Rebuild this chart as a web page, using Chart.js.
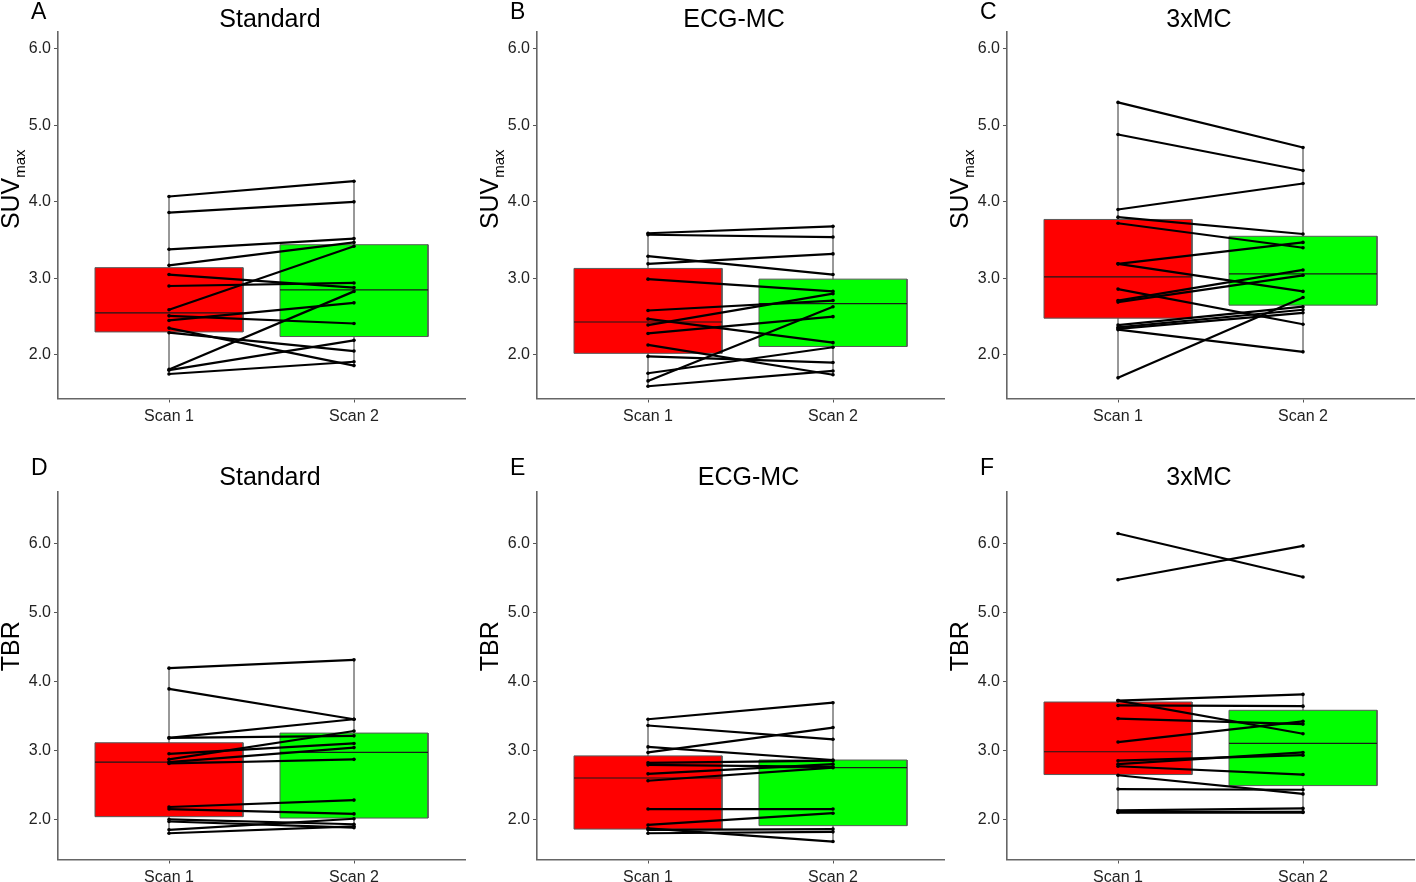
<!DOCTYPE html>
<html>
<head>
<meta charset="utf-8">
<script src="https://cdn.jsdelivr.net/npm/chart.js@4.4.1/dist/chart.umd.min.js"></script>
<style>
    body { margin: 0; background: #fff; }
    #wrap { position: relative; width: 1416px; height: 882px; overflow: hidden; background: #fff; }
    #wrap canvas { position: absolute; }
</style>
</head>
<body>
<div id="wrap"></div>
<script>
// ---- data ----
const scanLabels = ['Scan 1', 'Scan 2'];
const panelLetters = ['A', 'B', 'C', 'D', 'E', 'F'];
const panelTitles = ['Standard', 'ECG-MC', '3xMC', 'Standard', 'ECG-MC', '3xMC'];
const yTicks = [2.0, 3.0, 4.0, 5.0, 6.0];

// paired subject values (index k of scan 1 joins index k of scan 2)
const suvStdScan1 = [4.07, 3.86, 3.38, 3.17, 2.59, 3.05, 2.90, 2.51, 2.45, 1.81, 2.35, 2.29, 1.80, 1.75];
const suvStdScan2 = [4.27, 4.00, 3.52, 3.47, 3.42, 2.88, 2.94, 2.41, 2.68, 2.83, 1.86, 2.05, 2.19, 1.91];
const suvEcgScan1 = [3.59, 3.57, 3.29, 3.19, 2.99, 2.58, 2.47, 2.39, 2.28, 2.13, 1.98, 1.76, 1.66, 1.59];
const suvEcgScan2 = [3.68, 3.54, 3.05, 3.32, 2.83, 2.71, 2.16, 2.80, 2.50, 1.74, 1.90, 2.10, 2.63, 1.79];
const suv3xScan1 = [5.30, 4.88, 3.90, 3.80, 3.72, 3.19, 3.19, 2.86, 2.71, 2.69, 2.39, 2.36, 2.34, 2.33, 1.70];
const suv3xScan2 = [4.71, 4.41, 4.24, 3.58, 3.40, 3.47, 2.83, 2.40, 3.11, 3.04, 2.63, 2.59, 2.55, 2.04, 2.75];
const tbrStdScan1 = [4.19, 3.89, 3.18, 3.18, 2.95, 2.87, 2.83, 2.81, 2.18, 2.15, 2.00, 1.97, 1.85, 1.80];
const tbrStdScan2 = [4.31, 3.45, 3.45, 3.21, 3.10, 3.28, 3.04, 2.87, 2.28, 2.08, 1.93, 1.88, 2.01, 1.90];
const tbrEcgScan1 = [3.45, 3.36, 3.05, 2.97, 2.82, 2.79, 2.66, 2.56, 2.15, 1.92, 1.87, 1.85, 1.80];
const tbrEcgScan2 = [3.69, 3.16, 2.86, 3.33, 2.85, 2.76, 2.80, 2.75, 2.15, 2.09, 1.68, 1.86, 1.82];
const tbr3xScan1 = [6.14, 5.47, 3.72, 3.72, 3.65, 3.46, 3.12, 2.85, 2.80, 2.77, 2.64, 2.44, 2.13, 2.11, 2.10];
const tbr3xScan2 = [5.51, 5.96, 3.81, 3.24, 3.64, 3.38, 3.42, 2.93, 2.97, 2.65, 2.37, 2.43, 2.16, 2.11, 2.10];

// box stats: [whisker low, Q1, median, Q3, whisker high]
const suvStdBox1 = [1.75, 2.30, 2.55, 3.14, 4.07];
const suvStdBox2 = [1.85, 2.24, 2.85, 3.44, 4.27];
const suvEcgBox1 = [1.59, 2.02, 2.43, 3.13, 3.59];
const suvEcgBox2 = [1.73, 2.11, 2.67, 2.99, 3.69];
const suv3xBox1 = [1.70, 2.48, 3.02, 3.77, 5.30];
const suv3xBox2 = [2.04, 2.65, 3.06, 3.55, 4.71];
const tbrStdBox1 = [1.80, 2.04, 2.83, 3.11, 4.19];
const tbrStdBox2 = [1.88, 2.02, 2.97, 3.25, 4.31];
const tbrEcgBox1 = [1.79, 1.86, 2.60, 2.92, 3.45];
const tbrEcgBox2 = [1.67, 1.91, 2.75, 2.86, 3.69];
const tbr3xBox1 = [2.10, 2.65, 2.98, 3.70, 3.73];
const tbr3xBox2 = [2.10, 2.49, 3.10, 3.58, 3.81];

const panelScans = [
    [suvStdScan1, suvStdScan2], [suvEcgScan1, suvEcgScan2], [suv3xScan1, suv3xScan2],
    [tbrStdScan1, tbrStdScan2], [tbrEcgScan1, tbrEcgScan2], [tbr3xScan1, tbr3xScan2]
];
const panelBoxes = [
    [suvStdBox1, suvStdBox2], [suvEcgBox1, suvEcgBox2], [suv3xBox1, suv3xBox2],
    [tbrStdBox1, tbrStdBox2], [tbrEcgBox1, tbrEcgBox2], [tbr3xBox1, tbr3xBox2]
];

// ---- layout / style ----
const FONT = '"Liberation Sans", Arial, Helvetica, sans-serif';
const boxColors = ['#ff0000', '#00ff00'];
const colLeft = [-9, 470, 940];
const rowTop = [0, 456];
const rowHeight = [440, 445];
const rowPadTop = [32, 36];
const rowTitleY = [26.7, 29];
const rowLabelDy = [-26, -29.5];
const rowYRange = [[1.43, 6.22], [1.42, 6.74]];
const rowYLabel = [['SUV', 'max'], ['TBR', '']];
const titleX = [279, 264, 259, 279, 278.5, 259];
const BOX_HALF = 0.4;

// Panel letter, title and the y-axis title (with subscript)
const panelText = {
    id: 'panelText',
    afterDraw(chart, args, opts) {
        const ctx = chart.ctx;
        const area = chart.chartArea;
        ctx.save();
        ctx.fillStyle = '#000';
        ctx.textBaseline = 'alphabetic';

        ctx.textAlign = 'left';
        ctx.font = '23px ' + FONT;
        ctx.fillText(opts.letter, 40, 18.6);

        ctx.textAlign = 'center';
        ctx.font = '25px ' + FONT;
        ctx.fillText(opts.title, opts.titleX, opts.titleY);

        ctx.textAlign = 'left';
        ctx.font = '25px ' + FONT;
        const mainW = ctx.measureText(opts.yLabel).width;
        ctx.font = '15px ' + FONT;
        const subW = opts.yLabelSub ? ctx.measureText(opts.yLabelSub).width : 0;
        const cy = (area.top + area.bottom) / 2 + opts.labelDy;
        ctx.translate(27.5, cy);
        ctx.rotate(-Math.PI / 2);
        const x0 = -(mainW + subW) / 2;
        ctx.font = '25px ' + FONT;
        ctx.fillText(opts.yLabel, x0, 0);
        if (opts.yLabelSub) {
            ctx.font = '15px ' + FONT;
            ctx.fillText(opts.yLabelSub, x0 + mainW, 6);
        }
        ctx.restore();
    }
};

function buildPanel(i) {
    const col = i % 3;
    const row = Math.floor(i / 3);
    const canvas = document.createElement('canvas');
    canvas.width = 478;
    canvas.height = rowHeight[row];
    canvas.style.left = colLeft[col] + 'px';
    canvas.style.top = rowTop[row] + 'px';
    document.getElementById('wrap').appendChild(canvas);

    const datasets = [];
    // later datasets get a lower order so they are drawn on top
    const add = ds => { ds.order = -datasets.length; datasets.push(ds); };
    const boxes = panelBoxes[i];
    const [scan1, scan2] = panelScans[i];

    // whiskers (under the boxes)
    boxes.forEach((b, s) => {
        add({
            data: [{ x: s + 1, y: b[0] }, { x: s + 1, y: b[4] }],
            borderColor: '#333', borderWidth: 1, pointRadius: 0
        });
    });

    // boxes: fill, outline, median
    boxes.forEach((b, s) => {
        const x = s + 1;
        add({
            data: [{ x: x - BOX_HALF, y: b[3] }, { x: x + BOX_HALF, y: b[3] }],
            fill: { value: b[1] },
            backgroundColor: boxColors[s],
            borderColor: 'rgba(0,0,0,0)', borderWidth: 0, pointRadius: 0
        });
        add({
            data: [
                { x: x - BOX_HALF, y: b[1] }, { x: x - BOX_HALF, y: b[3] },
                { x: x + BOX_HALF, y: b[3] }, { x: x + BOX_HALF, y: b[1] },
                { x: x - BOX_HALF, y: b[1] }
            ],
            borderColor: '#5a5a5a', borderWidth: 1, pointRadius: 0
        });
        add({
            data: [{ x: x - BOX_HALF, y: b[2] }, { x: x + BOX_HALF, y: b[2] }],
            borderColor: '#1a1a1a', borderWidth: 1.2, pointRadius: 0
        });
    });

    // paired subject lines on top
    scan1.forEach((v, k) => {
        add({
            data: [{ x: 1, y: v }, { x: 2, y: scan2[k] }],
            borderColor: '#000', borderWidth: 2.2,
            pointRadius: 1.8, pointBackgroundColor: '#000', pointBorderWidth: 0
        });
    });

    const axisGrid = { drawOnChartArea: false, drawTicks: true, tickLength: 4, color: '#555', lineWidth: 1 };
    const axisBorder = { color: '#666', width: 1.6 };
    const tickFont = { family: FONT, size: 16 };

    new Chart(canvas, {
        type: 'line',
        data: { datasets: datasets },
        options: {
            responsive: false,
            animation: false,
            events: [],
            layout: { padding: { top: rowPadTop[row], left: 0, right: 2, bottom: 0 } },
            plugins: {
                legend: { display: false },
                tooltip: { enabled: false },
                panelText: {
                    letter: panelLetters[i],
                    title: panelTitles[i],
                    titleX: titleX[i],
                    titleY: rowTitleY[row],
                    yLabel: rowYLabel[row][0],
                    yLabelSub: rowYLabel[row][1],
                    labelDy: rowLabelDy[row]
                }
            },
            scales: {
                x: {
                    type: 'linear',
                    min: 0.4,
                    max: 2.6,
                    afterBuildTicks: s => { s.ticks = scanLabels.map((_, j) => ({ value: j + 1 })); },
                    afterFit: s => { s.height = 41.5; },
                    grid: axisGrid,
                    border: axisBorder,
                    ticks: {
                        padding: 4,
                        color: '#222',
                        font: tickFont,
                        maxRotation: 0,
                        autoSkip: false,
                        callback: v => scanLabels[Math.round(v) - 1]
                    }
                },
                y: {
                    type: 'linear',
                    min: rowYRange[row][0],
                    max: rowYRange[row][1],
                    afterBuildTicks: s => { s.ticks = yTicks.map(v => ({ value: v })); },
                    afterFit: s => { s.width = 67; },
                    grid: axisGrid,
                    border: axisBorder,
                    ticks: {
                        padding: 3,
                        color: '#222',
                        font: tickFont,
                        callback: v => v.toFixed(1)
                    }
                }
            }
        },
        plugins: [panelText]
    });
}

for (let i = 0; i < 6; i++) buildPanel(i);
</script>
</body>
</html>
